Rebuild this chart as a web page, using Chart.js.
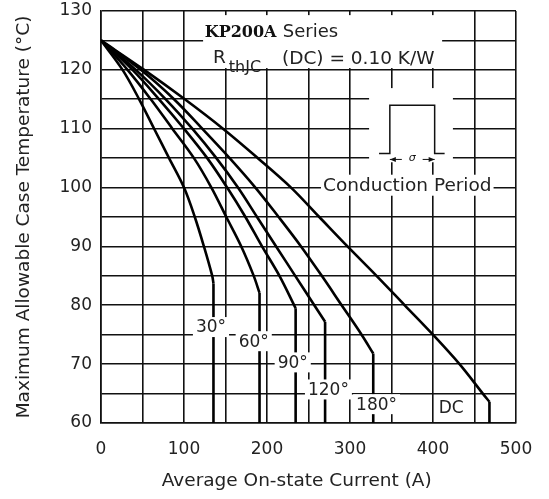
<!DOCTYPE html>
<html>
<head>
<meta charset="UTF-8">
<title>KP200A Series</title>
<script src="https://cdn.jsdelivr.net/npm/chart.js"></script>
<style>
  html, body { margin: 0; padding: 0; background: #fff; }
</style>
</head>
<body>
<canvas id="chart" width="549" height="499"></canvas>
<script>
// conduction angle curves (temp in °C, current in A)
// the last two points of each curve are the vertical drop at the current limit
const seriesNames = ['30°', '60°', '90°', '120°', '180°', 'DC'];

const temp30 = [125, 120, 115, 110, 105, 100, 95, 90, 85, 83.7, 60];
const cur30  = [0, 26, 46, 64, 82, 100, 113, 124, 134, 135.5, 135.5];

const temp60 = [125, 120, 115, 110, 105, 100, 95, 90, 85, 82.1, 60];
const cur60  = [0, 32, 60, 86, 112, 133, 151, 169, 184, 191, 191];

const temp90 = [125, 120, 115, 110, 105, 100, 95, 90, 85, 79.5, 60];
const cur90  = [0, 38, 70, 100, 128, 152, 174, 194, 215, 234.5, 234.5];

const temp120 = [125, 120, 115, 110, 105, 100, 95, 90, 85, 80, 77.2, 60];
const cur120  = [0, 42, 78, 110, 139, 165, 188, 211, 234, 257, 270, 270];

const temp180 = [125, 120, 115, 110, 105, 100, 95, 90, 85, 80, 75, 71.8, 60];
const cur180  = [0, 48, 88, 122, 155, 186, 214, 241, 266, 290, 314, 328, 328];

const tempDC = [125, 120, 115, 110, 105, 100, 95, 90, 85, 80, 75, 70, 65, 63.6, 60];
const curDC  = [0, 52, 101, 147, 189, 229, 263, 297, 332, 366, 400, 432, 460, 468, 468];

const xTickLabels = [0, 100, 200, 300, 400, 500];
const yTickLabels = [60, 70, 80, 90, 100, 110, 120, 130];

const temps = [temp30, temp60, temp90, temp120, temp180, tempDC];
const currents = [cur30, cur60, cur90, cur120, cur180, curDC];

const FONT = 'DejaVu Sans';
const INK = '#222';

// where the angle labels sit (data coords: A, °C)
const labelSpots = [[132.5, 76.3], [184, 73.9], [231, 70.3], [274, 65.7], [332, 63.2], [422, 62.7]];

const notes = {
  id: 'notes',
  afterDatasetsDraw(chart) {
    const { ctx, scales: { x, y } } = chart;
    const px = v => x.getPixelForValue(v);
    const py = v => y.getPixelForValue(v);
    ctx.save();

    const whiteBox = (x0, y0, x1, y1) => {
      ctx.fillStyle = '#fff';
      ctx.fillRect(x0, y0, x1 - x0, y1 - y0);
    };
    const boxedText = (txt, cx, cy, padX, h, size) => {
      ctx.font = size + 'px "' + FONT + '"';
      const w = ctx.measureText(txt).width;
      whiteBox(cx - w / 2 - padX, cy - h / 2, cx + w / 2 + padX, cy + h / 2);
      ctx.fillStyle = INK;
      ctx.textAlign = 'center';
      ctx.textBaseline = 'middle';
      ctx.fillText(txt, cx, cy + 1);
    };

    // angle labels
    seriesNames.forEach((name, i) => {
      boxedText(name, px(labelSpots[i][0]), py(labelSpots[i][1]), 3, 20, 17);
    });

    // heading block
    whiteBox(px(123), py(129.3), px(411), py(120.3));
    ctx.textAlign = 'left';
    ctx.textBaseline = 'alphabetic';
    ctx.fillStyle = '#111';
    ctx.font = 'bold 16px "DejaVu Serif"';
    ctx.fillText('KP200A', px(125), 37);
    ctx.fillStyle = INK;
    ctx.font = '18px "' + FONT + '"';
    ctx.fillText('Series', px(219), 37);
    ctx.font = '18.5px "' + FONT + '"';
    ctx.fillText('R', px(135), 63);
    ctx.font = '16px "' + FONT + '"';
    ctx.fillText('thJC', px(154), 72);
    ctx.font = '18.5px "' + FONT + '"';
    ctx.fillText('(DC) = 0.10 K/W', px(218), 64);

    // conduction period inset
    whiteBox(px(323), py(116.9), px(424), py(104.3));
    const l = px(348), r = px(402), top = py(114), base = py(105.8);
    ctx.strokeStyle = '#111';
    ctx.lineWidth = 1.5;
    ctx.beginPath();
    ctx.moveTo(px(335), base); ctx.lineTo(l, base); ctx.lineTo(l, top);
    ctx.lineTo(r, top); ctx.lineTo(r, base); ctx.lineTo(px(414), base);
    ctx.stroke();
    const ay = base + 6;
    ctx.lineWidth = 1;
    ctx.beginPath();
    ctx.moveTo(l, ay); ctx.lineTo(l + 12, ay);
    ctx.moveTo(r - 12, ay); ctx.lineTo(r, ay);
    ctx.stroke();
    ctx.fillStyle = '#111';
    ctx.beginPath();
    ctx.moveTo(l, ay); ctx.lineTo(l + 6, ay - 2.5); ctx.lineTo(l + 6, ay + 2.5); ctx.closePath();
    ctx.moveTo(r, ay); ctx.lineTo(r - 6, ay - 2.5); ctx.lineTo(r - 6, ay + 2.5); ctx.closePath();
    ctx.fill();
    ctx.font = 'italic 11px "' + FONT + '"';
    ctx.textAlign = 'center';
    ctx.textBaseline = 'middle';
    ctx.fillText('σ', (l + r) / 2, ay - 1);

    boxedText('Conduction Period', px(369), py(100.4), 2, 21, 18.5);
    ctx.restore();
  }
};

// each curve: smooth part down to the knee, then a straight vertical drop
const datasets = [];
seriesNames.forEach((name, i) => {
  const pts = currents[i].map((c, j) => ({ x: c, y: temps[i][j] }));
  const line = { borderColor: '#000', borderWidth: 2.6, pointRadius: 0, fill: false };
  datasets.push({ ...line, label: name, data: pts.slice(0, -1), tension: 0.35 });
  datasets.push({ ...line, label: name + ' limit', data: pts.slice(-2), tension: 0 });
});

const gridStyle = { color: '#111', lineWidth: 1.6, drawTicks: false };
const tickFont = { family: FONT, size: 17 };

new Chart(document.getElementById('chart').getContext('2d'), {
  type: 'line',
  data: { datasets },
  options: {
    responsive: false,
    animation: false,
    layout: { autoPadding: false, padding: { top: 11, right: 33, left: 0, bottom: 0 } },
    plugins: { legend: { display: false }, tooltip: { enabled: false } },
    scales: {
      x: {
        type: 'linear', min: 0, max: 500,
        grid: gridStyle,
        border: { color: '#111', width: 1.6 },
        ticks: {
          stepSize: 50, autoSkip: false, maxRotation: 0, padding: 16,
          color: INK, font: tickFont,
          callback: v => xTickLabels.includes(v) ? String(v) : ''
        },
        title: {
          display: true, text: 'Average On-state Current (A)    ',
          color: INK, font: { family: FONT, size: 18.5 },
          padding: { top: 0, bottom: 7 }
        },
        afterFit: s => { s.height = 76; }
      },
      y: {
        type: 'linear', min: 60, max: 130,
        grid: gridStyle,
        border: { color: '#111', width: 1.6 },
        ticks: {
          stepSize: 5, autoSkip: false, padding: 9,
          color: INK, font: tickFont,
          callback: v => yTickLabels.includes(v) ? String(v) : ''
        },
        title: {
          display: true, text: 'Maximum Allowable Case Temperature (°C)',
          color: INK, font: { family: FONT, size: 18.5 },
          padding: { top: 13, bottom: 0 }
        },
        afterFit: s => { s.width = 101; s.paddingTop = 0; s.paddingBottom = 0; }
      }
    }
  },
  plugins: [notes]
});
</script>
</body>
</html>
